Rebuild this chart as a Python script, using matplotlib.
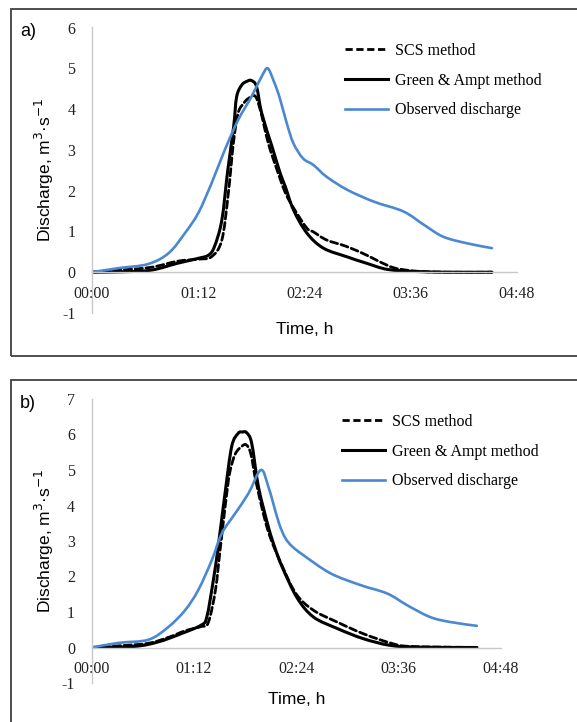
import numpy as np
import matplotlib
matplotlib.use("Agg")
import matplotlib.pyplot as plt
from matplotlib.lines import Line2D
from matplotlib.patches import PathPatch, Rectangle
from matplotlib.path import Path
from matplotlib.ticker import FuncFormatter, MultipleLocator

plt.rcParams["axes.unicode_minus"] = False


# ── Data (time in minutes, discharge in m3/s) ─────────────────────────────────

obs_a_t = [0, 18, 38, 52, 63, 72, 81, 90, 99, 108, 115, 119, 123, 127, 132, 136.5,
           143, 150, 159, 173, 191, 211, 225, 238, 254, 271]
obs_a_q = [0, 0.10, 0.20, 0.47, 0.96, 1.45, 2.18, 3.00, 3.73, 4.30, 4.80, 5.00, 4.70,
           4.30, 3.65, 3.16, 2.79, 2.63, 2.34, 2.02, 1.73, 1.49, 1.16, 0.87, 0.71, 0.59]

ga_a_t = [0, 20, 40, 58, 72, 79, 83, 88, 92, 96, 98, 101.5, 105, 108, 111.5, 115,
          122, 127.5, 131, 136.5, 145.6, 156.8, 172.6, 186, 200, 218, 240, 271]
ga_a_q = [0, 0.01, 0.05, 0.22, 0.34, 0.42, 0.63, 1.28, 2.50, 3.57, 4.30, 4.59, 4.68,
          4.70, 4.55, 3.90, 3.08, 2.43, 2.10, 1.53, 0.96, 0.59, 0.38, 0.22, 0.07, 0.02,
          0.0, 0.0]

scs_a_t = [0, 18, 40, 58, 72, 81, 88, 92.4, 95.8, 99, 103, 106, 110.5, 114, 119.5,
           125, 131, 137, 145.6, 150, 159, 172.6, 186, 195.3, 204.3, 213.3, 222, 240, 271]
scs_a_q = [0, 0.05, 0.12, 0.27, 0.32, 0.38, 0.79, 1.94, 3.16, 3.90, 4.15, 4.26, 4.32,
           3.98, 3.16, 2.55, 1.95, 1.55, 1.08, 0.99, 0.79, 0.63, 0.42, 0.25, 0.11, 0.05,
           0.02, 0.0, 0.0]

obs_b_t = [0, 19, 40, 54, 65.7, 75, 84.5, 91.5, 101, 110.3, 119, 124.3, 131.4, 136,
           141, 149, 168, 189, 208, 222, 238, 252, 271]
obs_b_q = [0, 0.13, 0.22, 0.58, 1.05, 1.62, 2.46, 3.21, 3.78, 4.34, 5.00, 4.53, 3.55,
           3.10, 2.85, 2.60, 2.09, 1.76, 1.52, 1.19, 0.86, 0.72, 0.61]

ga_b_t = [0, 30, 47, 63, 77, 81, 85.6, 89, 93.8, 98.5, 103, 106, 109, 112.6, 117.3,
          124.3, 129, 134, 144.5, 156, 172.5, 191, 210, 230, 271]
ga_b_q = [0, 0.03, 0.16, 0.39, 0.63, 0.86, 1.90, 2.84, 4.34, 5.66, 6.03, 6.07, 6.05,
          5.75, 4.53, 3.40, 2.80, 2.27, 1.40, 0.86, 0.54, 0.25, 0.06, 0.01, 0.0]

scs_b_t = [0, 20, 40, 55, 65.7, 77, 82, 87, 90.5, 94, 97, 101, 106, 109, 112, 116,
           124, 134, 144, 156, 172.5, 191, 210, 224, 271]
scs_b_q = [0, 0.05, 0.12, 0.30, 0.47, 0.59, 0.70, 1.60, 2.80, 4.00, 4.90, 5.45, 5.68,
           5.70, 5.45, 4.60, 3.30, 2.30, 1.50, 1.05, 0.72, 0.39, 0.13, 0.03, 0.0]

panels = ["a)", "b)"]
y_max = [6, 7]
legend_labels = ["SCS method", "Green & Ampt method", "Observed discharge"]

BLUE = "#4a88d2"
SERIF = "Liberation Serif"
SANS = "Liberation Sans"
DASH = (0, (2.6, 1.3))


def hhmm(x, pos):
    m = int(round(x))
    return f"{m // 60:02d}:{m % 60:02d}"


def smooth_path(t, q):
    """Excel-style smoothed line: Catmull-Rom segments as cubic Beziers."""
    p = np.column_stack([t, q]).astype(float)
    ext = np.vstack([p[0], p, p[-1]])
    verts, codes = [p[0]], [Path.MOVETO]
    for k in range(len(p) - 1):
        p0, p1, p2, p3 = ext[k], ext[k + 1], ext[k + 2], ext[k + 3]
        verts += [p1 + (p2 - p0) / 6, p2 - (p3 - p1) / 6, p2]
        codes += [Path.CURVE4] * 3
    return Path(verts, codes)


W, H = 577, 722
fig = plt.figure(figsize=(W / 100, H / 100), dpi=100, facecolor="white")

# axes rectangles in pixel coords: (left, right, top, bottom)
boxes = [(92, 517, 27.5, 313), (91.7, 501, 399, 683)]
frames = [(11, 9, 356), (11, 380, 730)]

series = [
    (scs_a_t, scs_a_q, ga_a_t, ga_a_q, obs_a_t, obs_a_q),
    (scs_b_t, scs_b_q, ga_b_t, ga_b_q, obs_b_t, obs_b_q),
]
legend_xy = [(345, 43), (342, 414)]

for i in range(2):
    l, r, t, b = boxes[i]
    ax = fig.add_axes([l / W, 1 - b / H, (r - l) / W, (b - t) / H])
    st, sq, gt, gq, ot, oq = series[i]

    styles = [
        (st, sq, dict(edgecolor="black", lw=2.0, linestyle=DASH)),
        (gt, gq, dict(edgecolor="black", lw=2.2)),
        (ot, oq, dict(edgecolor=BLUE, lw=1.9)),
    ]
    for xs, ys, kw in styles:
        ax.add_patch(PathPatch(smooth_path(xs, ys), fill=False, capstyle="round",
                               joinstyle="round", **kw))

    ax.set_xlim(0, 288)
    ax.set_ylim(-1, y_max[i])
    ax.xaxis.set_major_locator(MultipleLocator(72))
    ax.xaxis.set_major_formatter(FuncFormatter(hhmm))
    ax.yaxis.set_major_locator(MultipleLocator(1))
    ax.patch.set_visible(False)

    for s in ("top", "right"):
        ax.spines[s].set_visible(False)
    ax.spines["bottom"].set_position(("data", 0))
    ax.spines["bottom"].set_bounds(0, 288)
    ax.spines["left"].set_bounds(-1, y_max[i])
    for s in ("bottom", "left"):
        ax.spines[s].set_color("#c8c8c8")
        ax.spines[s].set_linewidth(1.0)
    ax.tick_params(axis="both", length=0, labelsize=11.5, colors="#222222")
    ax.tick_params(axis="x", pad=10)
    ax.tick_params(axis="y", pad=12)
    for lab in ax.get_xticklabels() + ax.get_yticklabels():
        lab.set_fontfamily(SERIF)

    ax.set_ylabel("Discharge, m$^3$·s$^{-1}$", family=SANS, fontsize=12.5, labelpad=4)
    ax.text(0.5, -0.03, "Time, h", transform=ax.transAxes, family=SANS, fontsize=12.5,
            ha="center", va="top")

    handles = [
        Line2D([], [], color="black", lw=2.0, linestyle=DASH),
        Line2D([], [], color="black", lw=2.2),
        Line2D([], [], color=BLUE, lw=1.9),
    ]
    lx, ly = legend_xy[i]
    ax.legend(handles, legend_labels, loc="upper left",
              bbox_to_anchor=(lx / W, 1 - ly / H),
              bbox_transform=fig.transFigure, frameon=False, borderpad=0,
              borderaxespad=0, handlelength=2.7, handletextpad=0.45, labelspacing=0.86,
              prop={"family": SERIF, "size": 11.5})

    fx, fy, fb = frames[i]
    fig.add_artist(Rectangle((fx / W, 1 - fb / H), 1.1, (fb - fy) / H,
                             transform=fig.transFigure, fill=False,
                             edgecolor="#404040", lw=1.3, clip_on=False))
    fig.text(20 / W, 1 - 31 / H if i == 0 else 1 - 403 / H, panels[i], family=SANS,
             fontsize=13, va="center", ha="left")

fig.savefig("out.png", dpi=100, facecolor="white")
